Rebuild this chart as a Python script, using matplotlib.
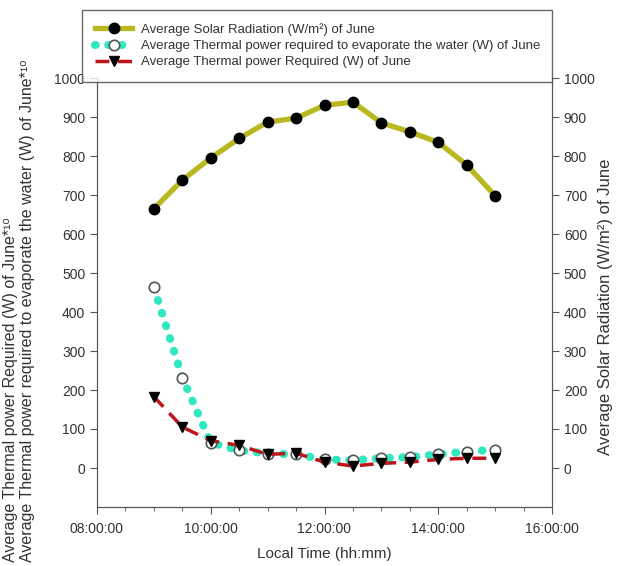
import matplotlib
matplotlib.use("Agg")
import matplotlib.pyplot as plt
from matplotlib.ticker import MultipleLocator

plt.rcParams['font.family'] = ['Liberation Sans', 'DejaVu Sans']

times = ["09:00", "09:30", "10:00", "10:30", "11:00", "11:30", "12:00",
         "12:30", "13:00", "13:30", "14:00", "14:30", "15:00"]
solar = [665, 738, 795, 845, 887, 897, 930, 938, 885, 862, 835, 777, 698]
evap = [463, 232, 65, 45, 37, 35, 22, 20, 25, 28, 35, 42, 47]
required = [183, 105, 70, 58, 35, 38, 15, 5, 12, 15, 22, 25, 25]
xtick_labels = ["08:00:00", "10:00:00", "12:00:00", "14:00:00", "16:00:00"]
yticks = [0, 100, 200, 300, 400, 500, 600, 700, 800, 900, 1000]

hours = [int(t[:2]) + int(t[3:]) / 60 for t in times]

fig = plt.figure(figsize=(6.23, 5.66), dpi=100)
ax = fig.add_axes([97/623, 1-507/566, 455/623, 429/566])
ax2 = ax.twinx()

tc = '#333333'
l1, = ax2.plot(hours, solar, color='#b8b820', lw=3.8, marker='o', ms=7.5,
               mfc='black', mec='black', zorder=3,
               label='Average Solar Radiation (W/m²) of June')
l2, = ax.plot(hours, evap, color='#30e8c0', lw=5.8, ls=(0, (0.1, 1.55)),
              dash_capstyle='round', marker='o', ms=7.5, mfc='white',
              mec='#555555', mew=1.2, zorder=3,
              label='Average Thermal power required to evaporate the water (W) of June')
l3, = ax.plot(hours, required, color='#c0141c', lw=2.5, ls=(0, (4, 2.5)),
              marker='v', ms=7, mfc='black', mec='black', zorder=4,
              label='Average Thermal power Required (W) of June')

for a in (ax, ax2):
    a.set_ylim(-100, 1000)
    a.set_yticks(yticks)
    a.tick_params(axis='y', direction='out', length=5, colors='#555555',
                  labelcolor=tc, labelsize=10)
    for s in a.spines.values():
        s.set_color('#555555')
    a.spines['top'].set_visible(False)

ax.set_xlim(8, 16)
ax.set_xticks([8, 10, 12, 14, 16])
ax.set_xticklabels(xtick_labels)
ax.xaxis.set_minor_locator(MultipleLocator(0.5))
ax.tick_params(axis='x', which='both', direction='out', colors='#555555',
               labelcolor=tc, labelsize=10)
ax.tick_params(axis='x', which='major', length=5, pad=6)
ax.tick_params(axis='x', which='minor', length=3)

ax.set_xlabel('Local Time (hh:mm)', fontsize=11, color=tc, labelpad=8)
ax2.set_ylabel('Average Solar Radiation (W/m²) of June', fontsize=12,
               color=tc)
ax2.yaxis.set_label_coords((598-97)/455, (507-307)/429)

fig.text(11/623, 1-562/566, 'Average Thermal power Required (W) of June*¹⁰',
         rotation=90, ha='center', va='bottom', fontsize=11.5, color=tc)
fig.text(28/623, 1-562/566,
         'Average Thermal power required to evaporate the water (W) of June*¹⁰',
         rotation=90, ha='center', va='bottom', fontsize=11.5, color=tc)

leg = fig.legend(handles=[l1, l2, l3], loc='upper left',
                 bbox_to_anchor=(82/623, 1-10/566, (552-82)/623, 0),
                 mode='expand', fontsize=9.5, frameon=True, fancybox=False,
                 edgecolor='#444444', handlelength=2.8, labelspacing=0.3,
                 borderpad=1.0, handletextpad=0.7, borderaxespad=0)
leg.get_frame().set_linewidth(1.0)
for t in leg.get_texts():
    t.set_color(tc)

fig.savefig('out.png', dpi=100)
